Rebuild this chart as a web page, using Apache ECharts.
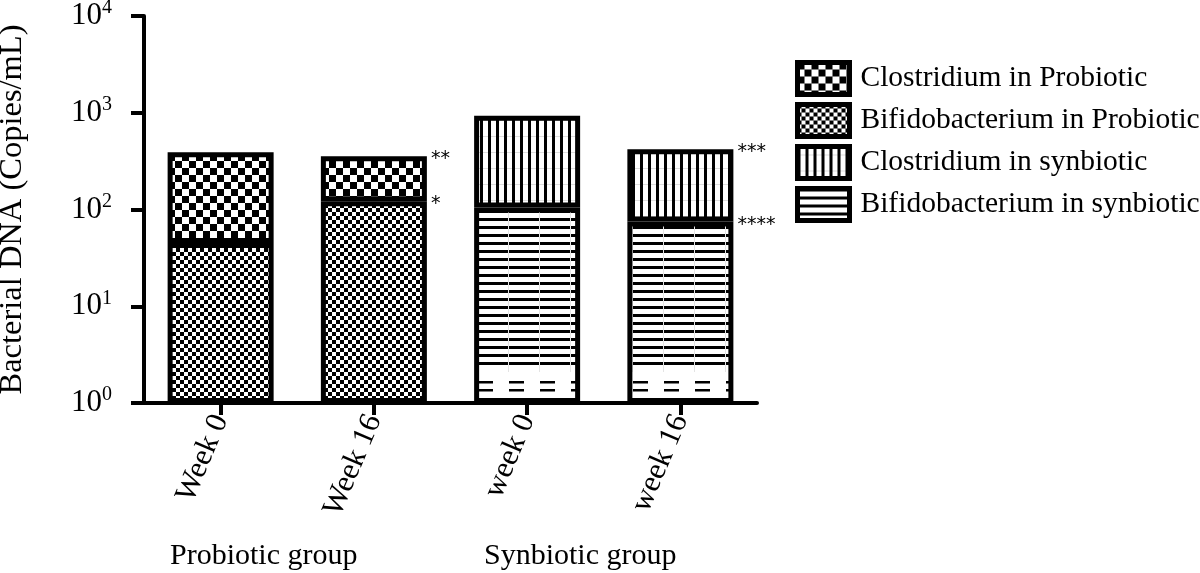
<!DOCTYPE html>
<html>
<head>
<meta charset="utf-8">
<script src="https://cdn.jsdelivr.net/npm/echarts@6/dist/echarts.min.js"></script>
<style>html,body{margin:0;padding:0;background:#fff}#c{width:1200px;height:573px}</style>
</head>
<body>
<div id="c"></div>
<script>
// ---- data ----
const categories = ['Week 0', 'Week 16', 'week 0', 'week 16'];
const groupLabels = ['Probiotic group', 'Synbiotic group'];
const seriesNames = ['Clostridium in Probiotic', 'Bifidobacterium in Probiotic', 'Clostridium in synbiotic', 'Bifidobacterium in synbiotic'];
const bifidoProbiotic = [45, 122, null, null];
const clostridiumProbiotic = [345, 233, null, null];
const bifidoSynbiotic = [null, null, 105, 75];
const clostridiumSynbiotic = [null, null, 825, 345];
const annotClostridium = ['', '**', '', '***'];
const annotBifido = ['', '*', '', '****'];
const yTickExponents = ['0', '1', '2', '3', '4'];
const yTickValues = [1, 10, 100, 1000, 10000];

// ---- patterns (fill styles only) ----
function makeCanvas(w, h, draw) {
  const c = document.createElement('canvas');
  c.width = w; c.height = h;
  const ctx = c.getContext('2d');
  ctx.fillStyle = '#fff'; ctx.fillRect(0, 0, w, h);
  ctx.fillStyle = '#000';
  draw(ctx);
  return c;
}
const bigChecker = makeCanvas(14, 14, ctx => { ctx.fillRect(0, 0, 7, 7); ctx.fillRect(7, 7, 7, 7); });
const smallChecker = makeCanvas(8, 8, ctx => { ctx.fillRect(0, 0, 4, 4); ctx.fillRect(4, 4, 4, 4); });
const vLines = makeCanvas(8, 16, ctx => { ctx.fillRect(0, 0, 3, 16); ctx.fillStyle = '#ddd'; ctx.fillRect(3, 8, 5, 1); });
// horizontal-line hatch; the original hatch thins out into dashes near the baseline
const hLines = makeCanvas(31, 573, ctx => {
  for (let y = 2; y <= 369; y += 8) { ctx.fillRect(0, y, 31, 3); }
  ctx.fillRect(13, 381, 15, 2.5);
  ctx.fillRect(13, 389, 15, 2.5);
  ctx.fillStyle = '#e4e4e4';
  ctx.fillRect(12, 0, 1, 372);
});
// small legend swatch version of the horizontal hatch
const hLinesSmall = makeCanvas(24, 8, ctx => { ctx.fillRect(0, 0, 24, 3); });
function pat(img) { return { image: img, repeat: 'repeat' }; }

const serif = 'Liberation Serif';
const chart = echarts.init(document.getElementById('c'), null, { renderer: 'canvas' });

function annotLabel(arr) {
  return {
    show: true,
    position: ['100%', 0],
    distance: 0,
    offset: [4, 3],
    align: 'left',
    verticalAlign: 'middle',
    fontFamily: 'DejaVu Sans',
    fontSize: 19,
    color: '#000',
    formatter: p => arr[p.dataIndex] || ''
  };
}
const baseItem = { borderColor: '#000', borderWidth: 5 };

chart.setOption({
  animation: false,
  backgroundColor: '#fff',
  grid: { left: 144, right: 443, top: 16, bottom: 170, containLabel: false, outerBoundsMode: 'none' },
  legend: {
    data: [
      { name: seriesNames[0] },
      { name: seriesNames[1] },
      { name: seriesNames[2] },
      { name: seriesNames[3], itemStyle: { color: pat(hLinesSmall) } }
    ],
    orient: 'vertical',
    left: 790,
    top: 55,
    itemWidth: 52,
    itemHeight: 32,
    itemGap: 5,
    icon: 'rect',
    textStyle: { fontFamily: serif, fontSize: 29.5, color: '#000', padding: [0, 0, 0, 6] },
    itemStyle: { borderColor: '#000', borderWidth: 5 }
  },
  xAxis: {
    type: 'category',
    data: categories,
    axisLine: { lineStyle: { color: '#000', width: 4 } },
    axisTick: { show: true, alignWithLabel: true, length: 12, lineStyle: { color: '#000', width: 4 } },
    axisLabel: { rotate: 67, fontFamily: serif, fontSize: 30.5, color: '#000', margin: 13, interval: 0 }
  },
  yAxis: {
    type: 'log',
    logBase: 10,
    min: 1,
    max: 10000,
    splitLine: { show: false },
    minorTick: { show: false },
    axisLine: { show: true, lineStyle: { color: '#000', width: 4 } },
    axisTick: { show: true, length: 13, lineStyle: { color: '#000', width: 4 } },
    axisLabel: {
      margin: 32,
      formatter: v => {
        const i = yTickValues.indexOf(Math.round(v));
        return i < 0 ? '' : '{b|10}{s|' + yTickExponents[i] + '}';
      },
      rich: {
        b: { fontFamily: serif, fontSize: 31, color: '#000' },
        s: { fontFamily: serif, fontSize: 20, color: '#000', verticalAlign: 'top', padding: [0, 0, 16, 0] }
      }
    },
    name: 'Bacterial DNA (Copies/mL)',
    nameLocation: 'middle',
    nameRotate: 90,
    nameGap: 115,
    nameTextStyle: { fontFamily: serif, fontSize: 32.5, color: '#000' }
  },
  series: [
    { name: seriesNames[1], type: 'bar', stack: 'p', data: bifidoProbiotic, barWidth: 106, barGap: '-100%',
      itemStyle: Object.assign({ color: pat(smallChecker) }, baseItem), label: annotLabel(annotBifido) },
    { name: seriesNames[0], type: 'bar', stack: 'p', data: clostridiumProbiotic, barWidth: 106, barGap: '-100%',
      itemStyle: Object.assign({ color: pat(bigChecker) }, baseItem), label: annotLabel(annotClostridium) },
    { name: seriesNames[3], type: 'bar', stack: 's', data: bifidoSynbiotic, barWidth: 106, barGap: '-100%',
      itemStyle: Object.assign({ color: pat(hLines) }, baseItem), label: annotLabel(annotBifido) },
    { name: seriesNames[2], type: 'bar', stack: 's', data: clostridiumSynbiotic, barWidth: 106, barGap: '-100%',
      itemStyle: Object.assign({ color: pat(vLines) }, baseItem), label: annotLabel(annotClostridium) }
  ],
  graphic: [
    { type: 'text', left: 170, top: 541, style: { text: groupLabels[0], fontFamily: serif, fontSize: 30, fill: '#000' } },
    { type: 'text', left: 484, top: 541, style: { text: groupLabels[1], fontFamily: serif, fontSize: 30, fill: '#000' } }
  ]
});
</script>
</body>
</html>
